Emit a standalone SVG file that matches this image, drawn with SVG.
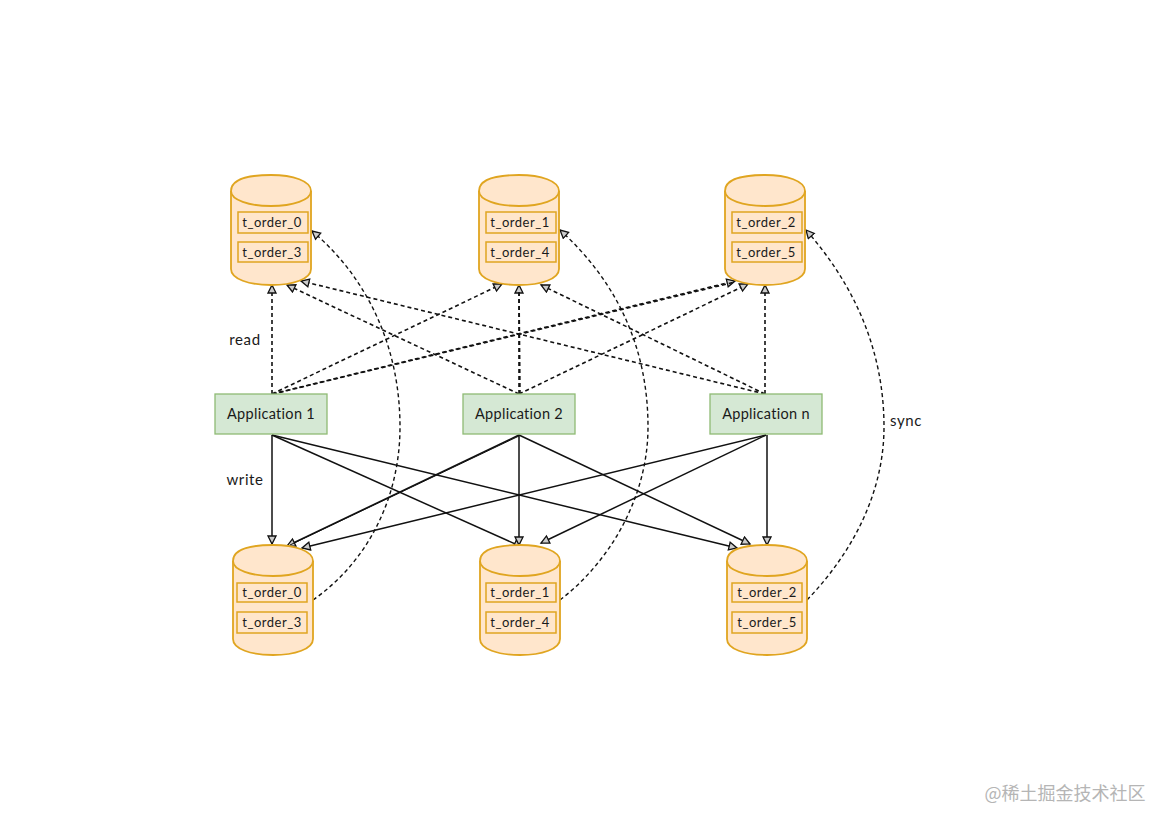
<svg xmlns="http://www.w3.org/2000/svg" width="1169" height="827" viewBox="0 0 1169 827">
<style>
text{font-family:"Lato","Liberation Sans",sans-serif;fill:#1a1a1a;text-anchor:middle}
.cyl{fill:#ffe6cc;stroke:#e0a520;stroke-width:1.800}
.tbl{fill:#ffe6cc;stroke:#e0a520;stroke-width:1.500}
.tt{font-size:13px;letter-spacing:.5px}
.app{fill:#d5e8d4;stroke:#8fbb74;stroke-width:1.300}
.at{font-size:14.500px;letter-spacing:.3px}
.lb{font-size:15px;letter-spacing:.6px}
.r{fill:none;stroke:#111;stroke-width:1.600;stroke-dasharray:4 3;marker-end:url(#a)}
.w{fill:none;stroke:#111;stroke-width:1.500;marker-end:url(#a)}
.s{fill:none;stroke:#111;stroke-width:1.400;stroke-dasharray:4 3;marker-end:url(#a)}
</style>
<defs>
<marker id="a" markerUnits="userSpaceOnUse" markerWidth="14" markerHeight="14" refX="9" refY="5" orient="auto"><path d="M1 1L9 5L1 9Z" fill="#ccc" stroke="#111" stroke-width="1.300"/></marker>
<g id="cylTop"><path class="cyl" d="M0 16C0 4 18 0 40 0C62 0 80 6 80 16L80 94C80 104 62 110 40 110C18 110 0 104 0 94Z"/><path class="cyl" d="M0 16C0 25 18 31 40 31C62 31 80 25 80 16"/></g>
</defs>
<g id="connectors">
<path class="r" d="M272 394L272 285"/><path class="r" d="M272 394L502 284"/><path class="r" d="M272 394L735 281"/><path class="r" d="M273 394L735 282" style="marker-end:none"/>
<path class="r" d="M519 394L287 285"/><path class="r" d="M519 394L519 285"/><path class="r" d="M520 394L519 290" style="marker-end:none"/><path class="r" d="M519 394L748 284"/>
<path class="r" d="M765 394L301 281"/><path class="r" d="M765 394L541 285"/><path class="r" d="M765 394L765 285"/>
<path class="w" d="M272 435L272 544"/><path class="w" d="M272 435L522 547"/><path class="w" d="M272 435L737 548"/>
<path class="w" d="M519 435L287 546"/><path class="w" d="M519 436L290 545" style="marker-end:none;stroke-width:1"/><path class="w" d="M519 435L519 545"/><path class="w" d="M519 435L750 544"/>
<path class="w" d="M766 435L302 548"/><path class="w" d="M766 435L541 543"/><path class="w" d="M767 435L767 545"/>
<path class="s" d="M313 600C370 560 400 495 400 427C400 350 370 280 312 231"/>
<path class="s" d="M560 600C612 560 648 495 648 427C648 345 615 280 560 230"/>
<path class="s" d="M807 600C855 550 884 490 884 427C884 345 850 280 806 230"/>
</g>
<g id="db-top-0"><use href="#cylTop" x="231" y="175"/><rect class="tbl" x="238" y="212" width="70" height="21"/><text class="tt" x="272" y="227">t_order_0</text><rect class="tbl" x="238" y="242" width="70" height="20"/><text class="tt" x="272" y="257">t_order_3</text></g>
<g id="db-top-1"><use href="#cylTop" x="479" y="175"/><rect class="tbl" x="486" y="212" width="70" height="21"/><text class="tt" x="520" y="227">t_order_1</text><rect class="tbl" x="486" y="242" width="70" height="20"/><text class="tt" x="520" y="257">t_order_4</text></g>
<g id="db-top-2"><use href="#cylTop" x="725" y="175"/><rect class="tbl" x="732" y="212" width="70" height="21"/><text class="tt" x="766" y="227">t_order_2</text><rect class="tbl" x="732" y="242" width="70" height="20"/><text class="tt" x="766" y="257">t_order_5</text></g>
<g id="db-bottom-0"><use href="#cylTop" x="233" y="545"/><rect class="tbl" x="237" y="583" width="70" height="19"/><text class="tt" x="272" y="597">t_order_0</text><rect class="tbl" x="237" y="612" width="70" height="21"/><text class="tt" x="272" y="627">t_order_3</text></g>
<g id="db-bottom-1"><use href="#cylTop" x="480" y="545"/><rect class="tbl" x="486" y="583" width="70" height="19"/><text class="tt" x="520" y="597">t_order_1</text><rect class="tbl" x="486" y="612" width="70" height="21"/><text class="tt" x="520" y="627">t_order_4</text></g>
<g id="db-bottom-2"><use href="#cylTop" x="727" y="545"/><rect class="tbl" x="732" y="583" width="70" height="19"/><text class="tt" x="767" y="597">t_order_2</text><rect class="tbl" x="732" y="612" width="70" height="21"/><text class="tt" x="767" y="627">t_order_5</text></g>
<g id="app-1"><rect class="app" x="215" y="394" width="112" height="40"/><text class="at" x="271" y="419">Application 1</text></g>
<g id="app-2"><rect class="app" x="463" y="394" width="112" height="40"/><text class="at" x="519" y="419">Application 2</text></g>
<g id="app-n"><rect class="app" x="710" y="394" width="112" height="40"/><text class="at" x="766" y="419">Application n</text></g>
<g id="labels">
<text class="lb" x="245" y="345">read</text>
<text class="lb" x="245" y="485">write</text>
<text class="lb" x="906" y="426">sync</text>
<text x="1065" y="800" style="font-family:'Noto Sans CJK SC','Noto Sans',sans-serif;font-size:18px;fill:#b5b5b5">@稀土掘金技术社区</text>
</g>
</svg>
